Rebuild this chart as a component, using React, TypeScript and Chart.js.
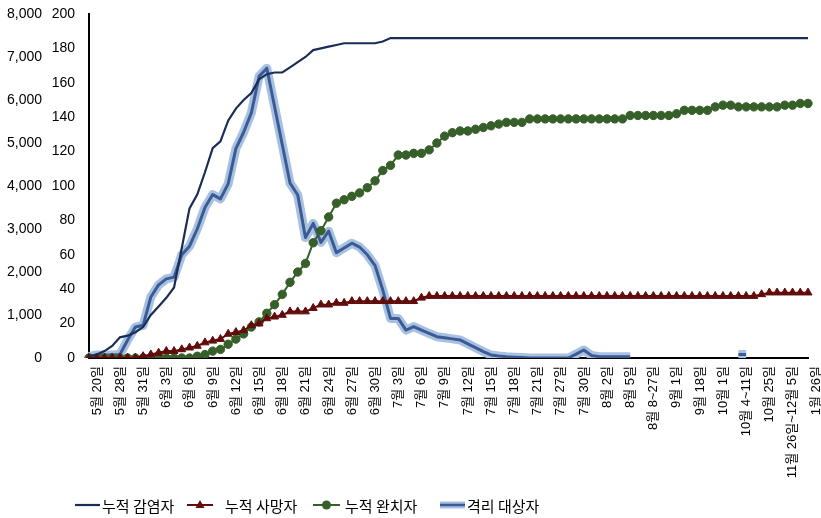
import React, { useEffect, useRef } from 'react';
import { Chart, registerables } from 'chart.js';

Chart.register(...registerables);

// Tick labels shown on every third category
const tickLabels = [
  '5월 20일', '5월 28일', '5월 31일', '6월 3일', '6월 6일', '6월 9일', '6월 12일', '6월 15일',
  '6월 18일', '6월 21일', '6월 24일', '6월 27일', '6월 30일', '7월 3일', '7월 6일', '7월 9일',
  '7월 12일', '7월 15일', '7월 18일', '7월 21일', '7월 27일', '7월 30일', '8월 2일', '8월 5일',
  '8월 8~27일', '9월 1일', '9월 18일', '10월 1일', '10월 4~11일', '10월 25일', '11월 26일~12월 5일', '1월 26일',
];

const seriesNames = ['누적 감염자', '누적 사망자', '누적 완치자', '격리 대상자'];

// right (inner) axis 0-200
const cumulativeCases = [
  1, 2, 4, 7, 12, 13, 15, 18, 25, 30,
  35, 41, 64, 87, 95, 108, 122, 126, 138, 145,
  150, 154, 162, 165, 166, 166, 169, 172, 175, 179,
  180, 181, 182, 183, 183, 183, 183, 183, 184, 186,
  186, 186, 186, 186, 186, 186, 186, 186, 186, 186,
  186, 186, 186, 186, 186, 186, 186, 186, 186, 186,
  186, 186, 186, 186, 186, 186, 186, 186, 186, 186,
  186, 186, 186, 186, 186, 186, 186, 186, 186, 186,
  186, 186, 186, 186, 186, 186, 186, 186, 186, 186,
  186, 186, 186, 186,
];

const cumulativeDeaths = [
  0, 0, 0, 0, 0, 0, 0, 1, 2, 3,
  4, 4, 5, 6, 7, 9, 10, 11, 14, 15,
  16, 19, 20, 23, 24, 25, 27, 27, 27, 29,
  31, 31, 32, 32, 33, 33, 33, 33, 33, 33,
  33, 33, 33, 35, 36, 36, 36, 36, 36, 36,
  36, 36, 36, 36, 36, 36, 36, 36, 36, 36,
  36, 36, 36, 36, 36, 36, 36, 36, 36, 36,
  36, 36, 36, 36, 36, 36, 36, 36, 36, 36,
  36, 36, 36, 36, 36, 36, 36, 37, 38, 38,
  38, 38, 38, 38,
];

const cumulativeRecovered = [
  0, 0, 0, 0, 0, 0, 0, 0, 0, 0,
  0, 0, 0, 0, 1, 2, 4, 5, 8, 11,
  14, 18, 21, 26, 31, 37, 44, 50, 55, 67,
  74, 82, 90, 92, 94, 96, 99, 103, 109, 112,
  118, 118, 119, 119, 121, 125, 129, 131, 132, 132,
  133, 134, 135, 136, 137, 137, 137, 139, 139, 139,
  139, 139, 139, 139, 139, 139, 139, 139, 139, 139,
  141, 141, 141, 141, 141, 141, 142, 144, 144, 144,
  144, 146, 147, 147, 146, 146, 146, 146, 146, 146,
  147, 147, 148, 148,
];

// left (outer) axis 0-8,000
const quarantined = [
  30, 70, 70, 70, 80, 420, 720, 760, 1420, 1700,
  1840, 1880, 2400, 2600, 3000, 3500, 3800, 3700, 4050, 4870,
  5250, 5700, 6550, 6740, 5850, 4960, 4070, 3790, 2800, 3130,
  2690, 2950, 2450, 2560, 2670, 2580, 2400, 2150, 1580, 920,
  920, 650, 730, 650, 570, 495, 470, 445, 420, 330,
  240, 150, 70, 45, 30, 20, 10, 0, 0, 0,
  0, 0, 0, 90, 186, 60, 30, 30, 30, 30,
  30, null, null, null, null, null, null, null, null, null,
  null, null, null, null, 80, 80, null, null, null, null,
  null, null, null, null,
];

const categories = cumulativeCases.map((_, i) => (i % 3 === 0 ? tickLabels[i / 3] : ''));

const NAVY = '#1B2D57';
const MAROON = '#620B0B';
const GREEN = '#375F2A';
const BLUE_CORE = '#3B5B92';
const BLUE_GLOW = '#A8C1E3';

const FONT = "'Liberation Sans', 'Noto Sans CJK KR', sans-serif";
const KFONT = "'Noto Sans CJK KR', 'Liberation Sans', sans-serif";

const zeroPad = (s: any) => {
  s.paddingLeft = 0;
  s.paddingRight = 0;
  s.paddingTop = 0;
  s.paddingBottom = 0;
};

const legendPlugin = {
  id: 'excelLegend',
  afterDraw(chart: any) {
    const ctx: CanvasRenderingContext2D = chart.ctx;
    const y = 505;
    ctx.save();
    ctx.lineCap = 'butt';
    const line = (x1: number, x2: number, color: string, w: number) => {
      ctx.beginPath();
      ctx.strokeStyle = color;
      ctx.lineWidth = w;
      ctx.moveTo(x1, y);
      ctx.lineTo(x2, y);
      ctx.stroke();
    };
    line(75, 100, NAVY, 2.2);
    line(187, 213, MAROON, 2);
    ctx.beginPath();
    ctx.fillStyle = MAROON;
    ctx.moveTo(200, y - 5);
    ctx.lineTo(204.5, y + 3);
    ctx.lineTo(195.5, y + 3);
    ctx.closePath();
    ctx.fill();
    line(313, 340, GREEN, 2);
    ctx.beginPath();
    ctx.fillStyle = GREEN;
    ctx.arc(326.5, y, 4.5, 0, Math.PI * 2);
    ctx.fill();
    line(440, 465, BLUE_GLOW, 7);
    line(440, 465, BLUE_CORE, 2.5);

    ctx.font = `15px ${KFONT}`;
    ctx.fillStyle = '#000';
    ctx.textBaseline = 'middle';
    ctx.textAlign = 'left';
    const starts = [102, 225, 345, 467];
    seriesNames.forEach((n, i) => ctx.fillText(n, starts[i], y + 1));
    ctx.restore();
  },
};

export default function App() {
  const ref = useRef<HTMLCanvasElement>(null);
  useEffect(() => {
    if (!ref.current) return;
    const chart = new Chart(ref.current, {
      type: 'line',
      data: {
        labels: categories,
        datasets: [
          {
            label: seriesNames[0],
            data: cumulativeCases,
            yAxisID: 'yR',
            borderColor: NAVY,
            backgroundColor: NAVY,
            borderWidth: 2.2,
            pointRadius: 0,
            tension: 0,
          },
          {
            label: seriesNames[1],
            data: cumulativeDeaths,
            yAxisID: 'yR',
            borderColor: MAROON,
            backgroundColor: MAROON,
            borderWidth: 2,
            pointStyle: 'triangle',
            pointRadius: 4.6,
            pointBorderWidth: 1,
            pointBackgroundColor: MAROON,
            pointBorderColor: MAROON,
            tension: 0,
          },
          {
            label: seriesNames[2],
            data: cumulativeRecovered,
            yAxisID: 'yR',
            borderColor: GREEN,
            backgroundColor: GREEN,
            borderWidth: 2,
            pointStyle: 'circle',
            pointRadius: 4.2,
            pointBorderWidth: 1,
            pointBackgroundColor: GREEN,
            pointBorderColor: GREEN,
            tension: 0,
          },
          {
            label: seriesNames[3],
            data: quarantined,
            yAxisID: 'yL',
            borderColor: BLUE_CORE,
            backgroundColor: BLUE_CORE,
            borderWidth: 3,
            pointRadius: 0,
            borderJoinStyle: 'round',
            tension: 0,
          },
          {
            label: 'glow',
            data: quarantined,
            yAxisID: 'yL',
            borderColor: BLUE_GLOW,
            backgroundColor: BLUE_GLOW,
            borderWidth: 9,
            pointRadius: 0,
            borderJoinStyle: 'round',
            tension: 0,
          },
        ],
      },
      options: {
        responsive: false,
        animation: false,
        devicePixelRatio: 1,
        layout: { padding: { left: 0, right: 13, top: 14, bottom: 40 } },
        plugins: { legend: { display: false }, tooltip: { enabled: false } },
        scales: {
          x: {
            type: 'category',
            offset: false,
            grid: { display: false, drawTicks: false },
            border: { display: true, color: '#000', width: 2 },
            ticks: {
              autoSkip: false,
              maxRotation: 90,
              minRotation: 90,
              padding: 8,
              labelOffset: 8,
              color: '#000',
              font: { family: FONT, size: 13 },
            },
            afterFit: (s: any) => { s.height = 120; zeroPad(s); },
          },
          yR: {
            type: 'linear',
            position: 'left',
            weight: 1,
            min: 0,
            max: 200,
            grid: { display: false, drawTicks: false },
            border: { display: true, color: '#000', width: 2 },
            ticks: { stepSize: 20, padding: 14, color: '#000', font: { family: FONT, size: 14 } },
            afterFit: (s: any) => { s.width = 47; zeroPad(s); },
          },
          yL: {
            type: 'linear',
            position: 'left',
            weight: 2,
            min: 0,
            max: 8000,
            grid: { display: false, drawTicks: false },
            border: { display: false },
            ticks: {
              stepSize: 1000,
              padding: 0,
              color: '#000',
              font: { family: FONT, size: 14 },
              callback: (v: any) => Number(v).toLocaleString('en-US'),
            },
            afterFit: (s: any) => { s.width = 42; zeroPad(s); },
          },
        },
      },
      plugins: [legendPlugin],
    });
    return () => chart.destroy();
  }, []);
  return (
    <div style={{ position: 'absolute', left: 0, top: 0, width: 821, height: 518, background: '#fff' }}>
      <canvas ref={ref} width={821} height={518} />
    </div>
  );
}
